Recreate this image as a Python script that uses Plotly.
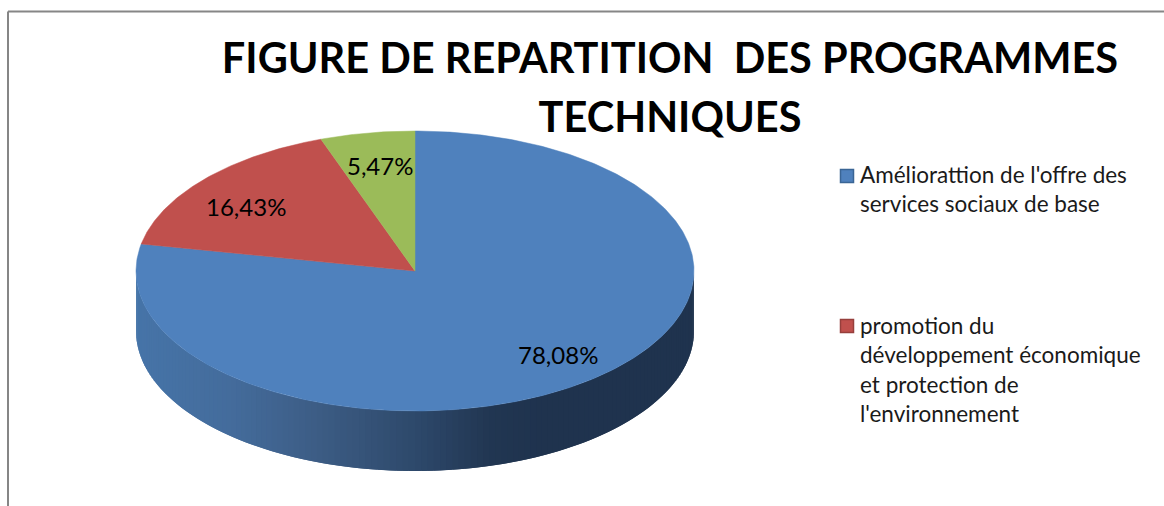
import numpy as np
import plotly.graph_objects as go

# ---- data ----
categories = ["Améliorattion de l'offre des services sociaux de base",
              "promotion du développement économique et protection de l'environnement",
              "Autres"]
values = [78.08, 16.43, 5.47]
value_labels = ["78,08%", "16,43%", "5,47%"]
legend_labels = ["Améliorattion de l'offre des<br>services sociaux de base",
                 "promotion du<br>développement économique<br>et protection de<br>l'environnement"]
title_lines = ["FIGURE DE REPARTITION \u00a0DES PROGRAMMES", "TECHNIQUES"]
colors = ["#4f81bd", "#c0504d", "#9bbb59"]
marker_edges = ["#3a6595", "#963f3c"]

# ---- projection of the tilted pie into pixel space ----
W, H = 1164, 506
CX, CY, RX, RY, DEPTH = 415, 271, 279, 140, 60
LABEL_POS = [(558, 354), (246, 206), (380, 165)]
LEGEND_POS = [(860, 161), (860, 312)]
SWATCH_POS = [(847, 176), (847, 326)]


def pt(theta):
    """Clockwise angle from 12 o'clock (radians) to a rim point."""
    return CX + RX * np.sin(theta), CY - RY * np.cos(theta)


def wall_color(x):
    stops_x = [136, 230, 320, 415, 490, 540, 693]
    r = np.interp(x, stops_x, [70, 68, 60, 46, 33, 31, 31])
    g = np.interp(x, stops_x, [116, 108, 92, 73, 54, 51, 51])
    b = np.interp(x, stops_x, [168, 156, 132, 107, 82, 78, 78])
    return f"rgb({r:.0f},{g:.0f},{b:.0f})"


fig = go.Figure()

# side wall of the big slice: overlapping shaded strips painted from right to left
edges = np.linspace(np.pi / 2, 3 * np.pi / 2, 141)
for a in edges[:-1]:
    t = np.linspace(a, a + np.pi / 70, 5)
    t = np.clip(t, np.pi / 2, 3 * np.pi / 2)
    x, y = pt(t)
    px = np.concatenate([x, x[::-1]])
    py = np.concatenate([y, y[::-1] + DEPTH])
    col = wall_color(x[:3].mean())
    fig.add_trace(go.Scatter(x=px, y=py, mode="lines", fill="toself", fillcolor=col,
                             line=dict(width=0), hoverinfo="skip", showlegend=False))

# top face, computed from the values
start = 0.0
total = sum(values)
for name, v, col in zip(categories, values, colors):
    end = start + v / total * 2 * np.pi
    t = np.linspace(start, end, max(int(v * 6), 12))
    x, y = pt(t)
    fig.add_trace(go.Scatter(x=np.r_[CX, x, CX], y=np.r_[CY, y, CY], mode="lines", fill="toself",
                             fillcolor=col, line=dict(color=col, width=0.5),
                             name=name, hoverinfo="name", showlegend=False))
    start = end

# legend swatches
fig.add_trace(go.Scatter(x=[p[0] for p in SWATCH_POS], y=[p[1] for p in SWATCH_POS], mode="markers",
                         marker=dict(symbol="square", size=13, color=colors[:2],
                                     line=dict(color=marker_edges, width=1.5)),
                         hoverinfo="skip", showlegend=False))

annotations = []
for (x, y), txt in zip(LABEL_POS, value_labels):
    annotations.append(dict(x=x, y=y, text=txt, showarrow=False, xanchor="center", yanchor="middle",
                            font=dict(family="Lato", size=24, color="#000000")))
for (x, y), txt in zip(LEGEND_POS, legend_labels):
    annotations.append(dict(x=x, y=y, text=txt, showarrow=False, xanchor="left", yanchor="top",
                            align="left", xshift=-2, yshift=2,
                            font=dict(family="Lato", size=22.5, color="#1a1a1a")))

title_text = "<br>".join(f'<span style="font-size:41.5px">{s}</span>' for s in title_lines)

fig.update_layout(
    width=W, height=H, margin=dict(l=0, r=0, t=0, b=0), autosize=False,
    paper_bgcolor="white", plot_bgcolor="white", showlegend=False,
    title=dict(text=title_text, x=670 / W, xanchor="center", xref="paper",
               y=1 - 73 / H, yref="paper", yanchor="middle",
               font=dict(family="Lato", size=45, color="#000000", weight="bold")),
    xaxis=dict(range=[0, W], visible=False, fixedrange=True),
    yaxis=dict(range=[H, 0], visible=False, fixedrange=True),
    annotations=annotations,
    shapes=[dict(type="line", x0=8, x1=W, y0=11.5, y1=11.5, line=dict(color="#868686", width=2)),
            dict(type="line", x0=8, x1=8, y0=11.5, y1=H, line=dict(color="#868686", width=2))],
)
fig.write_html("out.html", config=dict(displayModeBar=False),
               post_script="document.body.style.margin='0';document.body.style.fontVariantLigatures='none';"
                           "document.documentElement.style.overflow='hidden';")
